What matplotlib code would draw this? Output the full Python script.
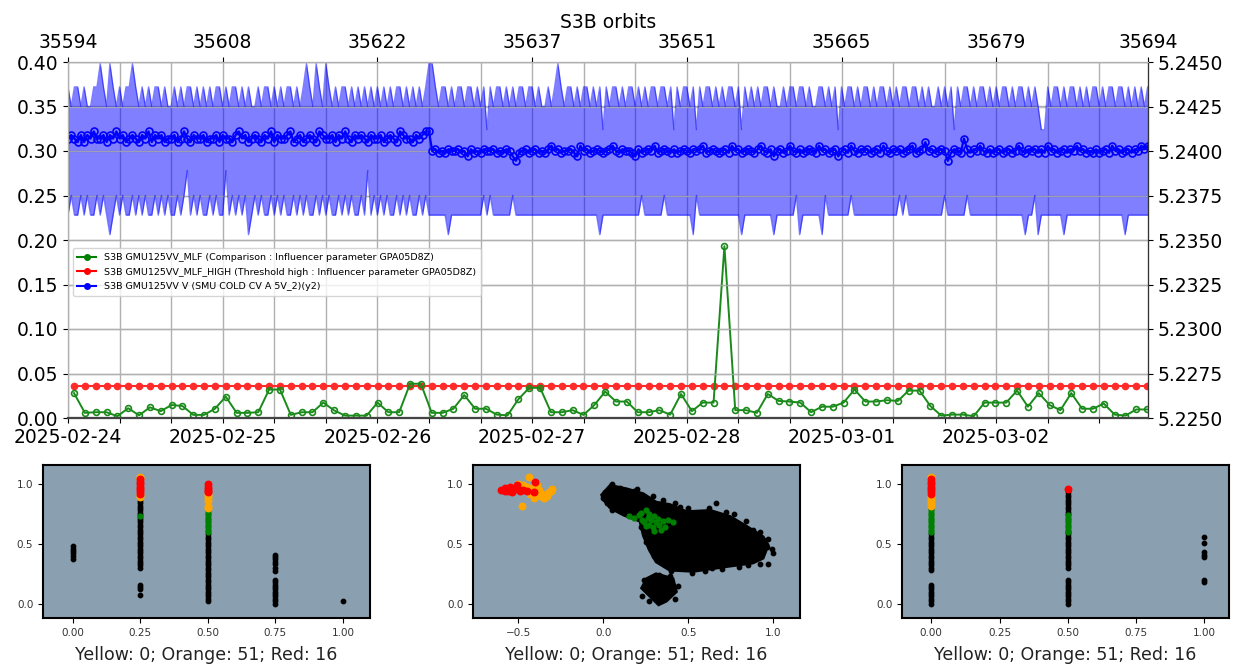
import numpy as np
import pandas as pd
import matplotlib
matplotlib.use('Agg')
import matplotlib.pyplot as plt
from matplotlib.lines import Line2D
from matplotlib.ticker import FormatStrFormatter

# =============================================================================
# DATA - top chart
# =============================================================================

# MLF comparison value, one point per orbit (left axis)
MLF = [0.028, 0.0058, 0.0065, 0.0065, 0.002, 0.011, 0.003, 0.012, 0.0077, 0.0146,
       0.0135, 0.0035, 0.0035, 0.0104, 0.024, 0.0058, 0.0058, 0.0065, 0.032, 0.032,
       0.0035, 0.0065, 0.0065, 0.0173, 0.0085, 0.0027, 0.0027, 0.0027, 0.0173, 0.0065,
       0.0065, 0.0385,
       0.0385, 0.0058, 0.0058, 0.0104, 0.0258, 0.0104, 0.0104, 0.0038, 0.003, 0.0212,
       0.0339, 0.0339, 0.0065, 0.0065, 0.0088, 0.0035, 0.0146, 0.0296, 0.0185, 0.0185,
       0.0065, 0.0065, 0.0088, 0.0038, 0.027, 0.0077, 0.0173, 0.0173, 0.193, 0.0088,
       0.0088, 0.0058, 0.027, 0.0192, 0.0185, 0.0173, 0.0065,
       0.0127, 0.0127, 0.0173, 0.032, 0.0185, 0.0185, 0.02, 0.0192, 0.0308, 0.0308,
       0.0135, 0.0027, 0.0038, 0.0038, 0.002, 0.0173, 0.0173, 0.0173, 0.0308, 0.0127,
       0.028, 0.0146, 0.0088, 0.028, 0.0104, 0.0104, 0.0162, 0.0038, 0.0027, 0.0096,
       0.0096]
MLF_HIGH = 0.036

# SMU voltage (right axis), 30 min bins, one string per day
# max / min levels and mean levels are coded with a letter / digit
HI_CODES = {'a': 5.2425, 'b': 5.2436, 'c': 5.2449, 'd': 5.2412}
LO_CODES = {'a': 5.2353, 'b': 5.2364, 'c': 5.2375, 'd': 5.2389}
MEAN_CODES = {'0': 5.23945, '1': 5.2397, '2': 5.2399, '3': 5.2400, '4': 5.2401,
              '5': 5.2403, '6': 5.2405, '7': 5.2407, '8': 5.2409, '9': 5.2411}

HI_DAYS = [
    "babbabaabb" "c" "bacbababb" "c" "babababbab" "aabababbab" "abababb",
    "ababbababa" "ababbababa" "bbabab" "c" "ba" "c" "ba" "c" "bababbababababa",
    "babababbab" "ababab" "cc" "babbababbabbabab" "d" "babbabababbab",
    "babaabab" "c" "babbababbabab" "d" "babbababbabababbabbab" "d" "bab",
    "bab" "d" "babbabababbab" "d" "bababab" "babaabab" "babbabaab" "babab" "d",
    "babbababba" "babbababab" "babbabab" "aa" "babab" "d" "babbababbaba",
    "babbababbababa" "dd" "babbababba" "bababbabab" "babbababab" "ab",
]
LO_DAYS = [
    "bcbbcbcbbcbcb" "a" "bcbcbbcbcbcbbcbcbcbbcbc" "d" "bcbcbbcbcb",
    "b" "d" "bcbcbc" "a" "bcbcbbcbcb" "cbbcbcbcbb" "cbcbcbbcbc" "bcbbcb" "d" "bc",
    "bcbcbbcbcbcbbcbcb" "bbbbb" "a" "bbbbbbbbbb" "c" "b" "c" "bbbbbb" "c" "bbbbb",
    "bbbbbbbbbbbbbbbbbbbbb" "a" "bbbbbbbbbbbb" "c" "bbbbbb" "c" "bbbbbb",
    "bb" "a" "c" "bbbbbbbbbbbbb" "a" "bbbbbbbbb" "a" "bbbbbb" "c" "a" "b" "bbbbb" "a" "c" "bbbb",
    "bbb" "c" "bbbbbbbbbbbbbb" "c" "b" "c" "bbbbbbbbbbb" "c" "bbbbbb" "c" "bbbbbbbb",
    "bbbbbbbbb" "a" "bb" "c" "a" "bbbbbbb" "a" "bbbbbbbbbbbbbbbbbb" "a" "bbbbbbb",
]
MEAN_DAYS = [
    "78768687" "97786879" "78678768" "79687867" "78679768" "77867786",
    "87768978" "67876879" "68778967" "86787698" "77868797" "68787687",
    "78678769" "87768789" "9" "34232433" "42314232" "43342324" "3102342",
    "34232453" "42334215" "34234323" "45324332" "14234352" "34324234",
    "32434523" "43234253" "42343245" "32413423" "53242343" "25342341",
    "34253243" "42342532" "43423452" "34634234" "30243274" "24353242",
    "34234235" "32434242" "53423424" "35342324" "23425342" "34243545",
]

DAY_LABELS = ['2025-02-24', '2025-02-25', '2025-02-26', '2025-02-27',
              '2025-02-28', '2025-03-01', '2025-03-02']
ORBIT_LABELS = ['35594', '35608', '35622', '35637', '35651', '35665', '35679', '35694']
LEGEND_LABELS = ['S3B GMU125VV_MLF (Comparison : Influencer parameter GPA05D8Z)',
                 'S3B GMU125VV_MLF_HIGH (Threshold high : Influencer parameter GPA05D8Z)',
                 'S3B GMU125VV V (SMU COLD CV A 5V_2)(y2)']

# =============================================================================
# DATA - bottom scatter panels  {x position: [y values]}
# =============================================================================
P1_BLACK = {0.0: [0.48, 0.46, 0.44, 0.42, 0.40, 0.37],
            0.25: [0.88, 0.86, 0.84, 0.82, 0.80, 0.78, 0.76, 0.74, 0.72, 0.70, 0.68, 0.66,
                   0.64, 0.62, 0.60, 0.58, 0.56, 0.54, 0.52, 0.50, 0.48, 0.46, 0.44, 0.42,
                   0.40, 0.38, 0.36, 0.34, 0.32, 0.30, 0.16, 0.14, 0.12, 0.07],
            0.5: [0.84, 0.58, 0.56, 0.54, 0.52, 0.50, 0.48, 0.46, 0.44, 0.42, 0.40, 0.38,
                  0.36, 0.34, 0.32, 0.30, 0.28, 0.26, 0.24, 0.22, 0.20, 0.18, 0.16, 0.14,
                  0.12, 0.10, 0.08, 0.06, 0.04, 0.02],
            0.75: [0.41, 0.39, 0.37, 0.35, 0.33, 0.30, 0.27, 0.20, 0.18, 0.16, 0.14, 0.12,
                   0.10, 0.08, 0.06, 0.04, 0.02, 0.0],
            1.0: [0.02]}
P1_GREEN = {0.25: [0.73],
            0.5: [0.78, 0.76, 0.74, 0.72, 0.70, 0.68, 0.66, 0.64, 0.62, 0.60]}
P1_ORANGE = {0.25: [1.06, 1.05, 0.91, 0.89],
             0.5: [0.92, 0.90, 0.88, 0.86, 0.82, 0.80]}
P1_RED = {0.25: [1.04, 1.02, 1.00, 0.98, 0.96, 0.94, 0.92],
          0.5: [1.00, 0.98, 0.96, 0.94, 0.93]}

P3_BLACK = {0.0: [0.84, 0.80, 0.58, 0.56, 0.54, 0.52, 0.50, 0.48, 0.46, 0.44, 0.42, 0.40,
                  0.38, 0.36, 0.34, 0.32, 0.30, 0.28, 0.16, 0.14, 0.12, 0.10, 0.08, 0.06,
                  0.04, 0.02, 0.0],
            0.5: [0.93, 0.91, 0.89, 0.87, 0.85, 0.83, 0.81, 0.79, 0.77, 0.75, 0.60, 0.58,
                  0.56, 0.54, 0.52, 0.50, 0.48, 0.46, 0.44, 0.42, 0.40, 0.38, 0.36, 0.34,
                  0.32, 0.30, 0.20, 0.18, 0.16, 0.14, 0.12, 0.10, 0.08, 0.06, 0.04, 0.02, 0.0],
            1.0: [0.56, 0.51, 0.43, 0.41, 0.39, 0.20, 0.18]}
P3_GREEN = {0.0: [0.78, 0.76, 0.74, 0.72, 0.70, 0.68, 0.66, 0.64, 0.62, 0.60],
            0.5: [0.74, 0.72, 0.70, 0.68, 0.66, 0.64, 0.62, 0.60]}
P3_ORANGE = {0.0: [1.06, 1.05, 0.91, 0.89, 0.87, 0.85, 0.83, 0.82]}
P3_RED = {0.0: [1.04, 1.02, 1.00, 0.98, 0.96, 0.94, 0.92],
          0.5: [0.96]}

# panel 2: dense clouds drawn as outlines + scattered edge points
CLOUD_X = [-0.01, 0.04, 0.14, 0.235, 0.31, 0.39, 0.49, 0.63, 0.745, 0.84, 0.94, 0.97,
           0.94, 0.88, 0.725, 0.53, 0.39, 0.31, 0.27, 0.235, 0.215, 0.12, 0.04, 0.0]
CLOUD_Y = [0.91, 0.99, 0.96, 0.92, 0.85, 0.83, 0.77, 0.78, 0.73, 0.65, 0.56, 0.49,
           0.38, 0.34, 0.31, 0.27, 0.28, 0.35, 0.45, 0.57, 0.69, 0.74, 0.80, 0.87]
BLOB_X = [0.255, 0.31, 0.41, 0.43, 0.37, 0.325, 0.275, 0.225]
BLOB_Y = [0.21, 0.25, 0.21, 0.10, 0.02, -0.01, 0.06, 0.13]
P2_BLACK_X = [0.0, 0.01, 0.05, 0.10, 0.20, 0.29, 0.42, 0.50, 0.62, 0.66, 0.72, 0.84, 0.92,
              0.97, 1.0, 0.97, 0.92, 0.85, 0.70, 0.52, 0.40, 0.30, 0.25, 0.22, 0.05, 0.02,
              0.225, 0.44, 0.27, 0.33, 0.39, 0.96, 0.80, 0.60, 0.18, 0.35, 0.45, 0.77,
              0.88, 0.99, 0.64, 0.26, 0.42, 0.24]
P2_BLACK_Y = [0.88, 0.93, 1.0, 0.97, 0.96, 0.90, 0.84, 0.80, 0.80, 0.84, 0.77, 0.69, 0.60,
              0.54, 0.42, 0.33, 0.33, 0.32, 0.29, 0.26, 0.27, 0.40, 0.52, 0.64, 0.78, 0.84,
              0.06, 0.15, 0.02, 0.24, 0.23, 0.47, 0.31, 0.27, 0.94, 0.87, 0.81, 0.75,
              0.62, 0.46, 0.30, 0.55, 0.04, 0.20]
P2_GREEN_X = [0.15, 0.18, 0.21, 0.23, 0.24, 0.25, 0.26, 0.27, 0.28, 0.29, 0.30, 0.31,
              0.32, 0.33, 0.35, 0.36, 0.38, 0.41, 0.27, 0.22, 0.30, 0.34, 0.25]
P2_GREEN_Y = [0.73, 0.72, 0.74, 0.70, 0.68, 0.78, 0.72, 0.66, 0.70, 0.64, 0.61, 0.68,
              0.71, 0.66, 0.69, 0.64, 0.70, 0.68, 0.75, 0.76, 0.73, 0.62, 0.65]
P2_ORANGE_X = [-0.44, -0.48, -0.42, -0.38, -0.36, -0.33, -0.31, -0.30, -0.35, -0.45,
               -0.43, -0.39, -0.50, -0.47, -0.32, -0.37, -0.41]
P2_ORANGE_Y = [1.06, 0.82, 0.97, 0.95, 0.92, 0.90, 0.94, 0.96, 0.88, 0.98, 0.92, 0.99,
               1.00, 0.99, 0.93, 0.90, 0.88]
P2_RED_X = [-0.60, -0.58, -0.56, -0.55, -0.53, -0.52, -0.50, -0.49, -0.47, -0.45, -0.40,
            -0.41, -0.56, -0.54, -0.51, -0.58]
P2_RED_Y = [0.95, 0.97, 0.96, 0.98, 0.95, 0.97, 0.96, 0.94, 0.95, 0.94, 1.02, 0.93, 0.94,
            0.93, 0.99, 0.94]

PANEL_LABEL = 'Yellow: 0; Orange: 51; Red: 16'

# =============================================================================
# PLOT
# =============================================================================
v_hi = [HI_CODES[c] for c in ''.join(HI_DAYS)]
v_lo = [LO_CODES[c] for c in ''.join(LO_DAYS)]
v_mean = [MEAN_CODES[c] for c in ''.join(MEAN_DAYS)]
assert len(v_hi) == len(v_lo) == len(v_mean) == 336, (len(v_hi), len(v_lo), len(v_mean))

t_start = pd.Timestamp('2025-02-24 00:00')
t_end = pd.Timestamp('2025-03-02 23:33')
t_blue = pd.date_range(t_start, periods=len(v_hi), freq='30min')
t_orb = pd.date_range('2025-02-24 00:56', periods=len(MLF), freq=pd.Timedelta(minutes=100.9))

W, H = 1236, 670
fig = plt.figure(figsize=(W / 100, H / 100), dpi=100)
ax = fig.add_axes([68 / W, 252 / H, 1080 / W, 356 / H])
ax2 = ax.twinx()
ax3 = ax.twiny()

GRID = '#b0b0b0'
FS = 13.5

ax.plot(t_orb, np.full(len(t_orb), MLF_HIGH), '-o', color='#ff2a2a', lw=1.5, ms=4.5, zorder=2)
ax.plot(t_orb, MLF, '-o', color='#1a8a1a', lw=1.4, ms=4.2, mfc='none', mew=1.2, zorder=3)

ax2.fill_between(t_blue, v_lo, v_hi, color='blue', alpha=0.5, lw=0)
ax2.plot(t_blue, v_hi, color='blue', alpha=0.5, lw=1)
ax2.plot(t_blue, v_lo, color='blue', alpha=0.5, lw=1)
ax2.plot(t_blue, v_mean, '-o', color='blue', lw=1.6, ms=5, mfc='none', mew=1.2)

ax.set_xlim(t_start, t_end)
ax.set_ylim(0, 0.40)
ax.set_yticks(np.arange(0, 0.401, 0.05))
ax.yaxis.set_major_formatter(FormatStrFormatter('%.2f'))
ticks8 = pd.date_range(t_start, '2025-03-02 16:00', freq='8h')
ax.set_xticks(ticks8)
ax.set_xticklabels([d.strftime('%Y-%m-%d') if d.hour == 0 else '' for d in ticks8])
ax.tick_params(labelsize=FS)
ax.grid(True, color=GRID, lw=1)

ax2.set_ylim(5.2250, 5.2450)
ax2.set_yticks([5.2250, 5.2275, 5.2300, 5.2325, 5.2350, 5.2375, 5.2400, 5.2425, 5.2450])
ax2.yaxis.set_major_formatter(FormatStrFormatter('%.4f'))
ax2.tick_params(labelsize=FS)
ax2.grid(True, color=GRID, lw=1, alpha=0.8)

ax3.set_xlim(t_start, t_end)
ax3.set_xticks(list(pd.date_range(t_start, periods=7, freq='D')) + [t_end])
ax3.set_xticklabels(ORBIT_LABELS)
ax3.tick_params(labelsize=FS)
ax3.set_xlabel('S3B orbits', fontsize=FS)

for a in (ax, ax2, ax3):
    a.spines['left'].set_color(GRID)
    a.spines['top'].set_color(GRID)
    a.spines['bottom'].set_color('#444444')
    a.spines['bottom'].set_linewidth(1.5)
    a.spines['right'].set_color('#333333')

handles = [Line2D([], [], color='green', marker='o', ms=4, lw=1.5),
           Line2D([], [], color='red', marker='o', ms=4, lw=1.5),
           Line2D([], [], color='blue', marker='o', ms=4, lw=1.5)]
ax2.legend(handles, LEGEND_LABELS, loc='upper left', bbox_to_anchor=(0.0, 0.49),
           fontsize=6.8, labelspacing=0.6, handlelength=2.0, borderpad=0.5)

# ---- bottom panels ----
P_BG = '#8aa0b1'


def strips(d):
    xs, ys = [], []
    for x, yy in d.items():
        xs += [x] * len(yy)
        ys += yy
    return xs, ys


def setup_panel(p, xlim, xticks, xlabels):
    p.set_facecolor(P_BG)
    p.set_xlim(*xlim)
    p.set_ylim(-0.12, 1.16)
    p.set_xticks(xticks)
    p.set_xticklabels(xlabels)
    p.set_yticks([0.0, 0.5, 1.0])
    p.set_yticklabels(['0.0', '0.5', '1.0'])
    p.tick_params(labelsize=7.5, labelcolor='#333333')
    for s in p.spines.values():
        s.set_linewidth(1.5)
    p.set_xlabel(PANEL_LABEL, fontsize=12.5, labelpad=6, color='#222222')


prect = [465, 618]
p1 = fig.add_axes([43 / W, (H - prect[1]) / H, 327 / W, (prect[1] - prect[0]) / H])
p2 = fig.add_axes([473 / W, (H - prect[1]) / H, 327 / W, (prect[1] - prect[0]) / H])
p3 = fig.add_axes([902 / W, (H - prect[1]) / H, 327 / W, (prect[1] - prect[0]) / H])

for p, blk, grn, org, red in ((p1, P1_BLACK, P1_GREEN, P1_ORANGE, P1_RED),
                              (p3, P3_BLACK, P3_GREEN, P3_ORANGE, P3_RED)):
    p.scatter(*strips(blk), s=10, color='black', zorder=2)
    p.scatter(*strips(grn), s=12, color='green', zorder=3)
    p.scatter(*strips(org), s=22, color='orange', zorder=3)
    p.scatter(*strips(red), s=22, color='red', zorder=4)

xt = [0.0, 0.25, 0.5, 0.75, 1.0]
xtl = ['0.00', '0.25', '0.50', '0.75', '1.00']
setup_panel(p1, (-0.11, 1.10), xt, xtl)
setup_panel(p3, (-0.107, 1.09), xt, xtl)

p2.fill(CLOUD_X, CLOUD_Y, color='black', lw=2, zorder=2)
p2.fill(BLOB_X, BLOB_Y, color='black', lw=2, zorder=2)
p2.scatter(P2_BLACK_X, P2_BLACK_Y, s=10, color='black', zorder=2)
p2.scatter(P2_GREEN_X, P2_GREEN_Y, s=12, color='green', zorder=3)
p2.scatter(P2_ORANGE_X, P2_ORANGE_Y, s=22, color='orange', zorder=3)
p2.scatter(P2_RED_X, P2_RED_Y, s=22, color='red', zorder=4)
setup_panel(p2, (-0.767, 1.157), [-0.5, 0.0, 0.5, 1.0], ['\u22120.5', '0.0', '0.5', '1.0'])

fig.savefig('out.png', dpi=100)
